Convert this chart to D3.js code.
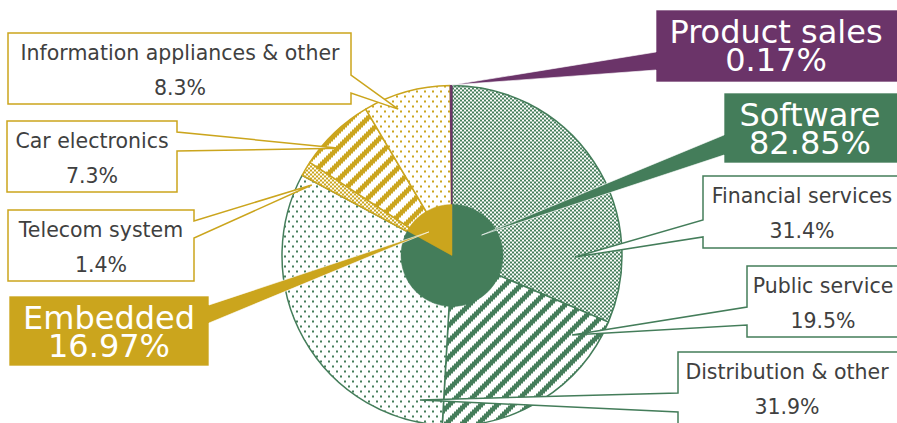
<!DOCTYPE html>
<html><head><meta charset="utf-8">
<script src="https://cdn.jsdelivr.net/npm/d3@7"></script>
<style>html,body{margin:0;padding:0;background:#fff;} svg{display:block;}</style>
</head><body>
<script>
// ---- data ----
const innerCategories = ["Product sales", "Software", "Embedded"];
const innerValues = [0.17, 82.85, 16.97];
const outerCategories = ["Financial services", "Public service", "Distribution & other",
  "Telecom system", "Car electronics", "Information appliances & other", "Product sales"];
const outerValues = [31.4, 19.5, 31.9, 1.4, 7.3, 8.3, 0.17];
const outerParents = ["Software", "Software", "Software", "Embedded", "Embedded", "Embedded", "Product sales"];

// ---- styles ----
const W = 897, H = 423;
const cx = 452, cy = 255.5, R = 170, R0 = 51;
const parentColor = {"Software": "#447D5A", "Embedded": "#CBA51D", "Product sales": "#6B3469"};
const innerColor = {"Software": "#447D5A", "Embedded": "#CBA51D", "Product sales": "#4472C4"};
const outerFills = ["checker", "stripe", "dots", "checker", "stripe", "dots", "solid"];

// callout layout (box rect, pointer base on box side, tip in polar coords around pie centre)
const calloutLayout = [
  {name: "Information appliances & other", ring: "outer", x: 8, y: 33, w: 343, h: 71, side: "right", py: [75, 93], ta: 339.8, tr: 156, tx: 180},
  {name: "Car electronics", ring: "outer", x: 7, y: 121, w: 170, h: 71, side: "right", py: [132, 151], ta: 313.8, tr: 155, tx: 92},
  {name: "Telecom system", ring: "outer", x: 8, y: 210, w: 186, h: 71, side: "right", py: [221, 238], ta: 296.7, tr: 157, tx: 101},
  {name: "Financial services", ring: "outer", x: 703, y: 176, w: 200, h: 72, side: "left", py: [220, 237], ta: 90.7, tr: 123, tx: 802},
  {name: "Public service", ring: "outer", x: 747, y: 266, w: 160, h: 71, side: "left", py: [307, 325], ta: 123.5, tr: 144, tx: 823},
  {name: "Distribution & other", ring: "outer", x: 678, y: 352, w: 230, h: 72, side: "left", py: [393, 412], ta: 192.5, tr: 148, tx: 787},
  {name: "Product sales", ring: "inner", x: 656, y: 10, w: 242, h: 72, side: "left", py: [52, 70], ta: 0, tr: 170.5, tx: 776},
  {name: "Software", ring: "inner", x: 724, y: 93, w: 174, h: 70, side: "left", py: [135, 155], ta: 55.4, tr: 36, tx: 810},
  {name: "Embedded", ring: "inner", x: 9, y: 296, w: 200, h: 70, side: "right", py: [305, 323], ta: 315.6, tr: 33, tx: 109}
];

const svg = d3.select("body").append("svg").attr("width", W).attr("height", H)
  .style("font-family", "'DejaVu Sans', Verdana, sans-serif");
const defs = svg.append("defs");

function makePatterns(key, c) {
  let p = defs.append("pattern").attr("id", "checker-" + key).attr("patternUnits", "userSpaceOnUse")
    .attr("width", 4).attr("height", 4);
  p.append("rect").attr("width", 4).attr("height", 4).attr("fill", "#fff");
  p.append("rect").attr("x", 0).attr("y", 0).attr("width", 2).attr("height", 2).attr("fill", c);
  p.append("rect").attr("x", 2).attr("y", 2).attr("width", 2).attr("height", 2).attr("fill", c);

  p = defs.append("pattern").attr("id", "stripe-" + key).attr("patternUnits", "userSpaceOnUse")
    .attr("width", 16).attr("height", 16);
  p.append("rect").attr("width", 16).attr("height", 16).attr("fill", "#fff");
  for (let j = 0; j < 8; j++) {
    const x = 14 - 2 * j;
    [x - 16, x, x + 16].forEach(xx => {
      p.append("rect").attr("x", xx).attr("y", 2 * j).attr("width", 7).attr("height", 2).attr("fill", c);
    });
  }

  p = defs.append("pattern").attr("id", "dots-" + key).attr("patternUnits", "userSpaceOnUse")
    .attr("width", 8).attr("height", 10);
  p.append("rect").attr("width", 8).attr("height", 10).attr("fill", "#fff");
  p.append("rect").attr("x", 0).attr("y", 0).attr("width", 2).attr("height", 2).attr("fill", c);
  p.append("rect").attr("x", 4).attr("y", 5).attr("width", 2).attr("height", 2).attr("fill", c);
}
Object.entries(parentColor).forEach(([k, c], i) => makePatterns("p" + i, c));
const patternKey = {};
Object.keys(parentColor).forEach((k, i) => patternKey[k] = "p" + i);
defs.selectAll("pattern rect").attr("shape-rendering", "crispEdges");

const g = svg.append("g").attr("transform", `translate(${cx},${cy})`);
const pie = d3.pie().sort(null).value(d => d.v);

// outer pie
const outerData = pie(outerCategories.map((n, i) => ({n, v: outerValues[i], p: outerParents[i], f: outerFills[i]})));
const outerArc = d3.arc().innerRadius(0).outerRadius(R);
g.selectAll("path.outer").data(outerData).join("path").attr("class", "outer")
  .attr("d", outerArc)
  .attr("fill", d => d.data.f === "solid" ? parentColor[d.data.p] : `url(#${d.data.f}-${patternKey[d.data.p]})`)
  .attr("stroke", d => parentColor[d.data.p])
  .attr("stroke-width", d => d.data.f === "solid" ? 1 : 1.5)
  .attr("stroke-linejoin", "round");

// inner pie
const innerData = pie(innerCategories.map((n, i) => ({n, v: innerValues[i]})));
const innerArc = d3.arc().innerRadius(0).outerRadius(R0);
g.selectAll("path.inner").data(innerData).join("path").attr("class", "inner")
  .attr("d", innerArc)
  .attr("fill", d => innerColor[d.data.n])
  .attr("stroke", d => innerColor[d.data.n])
  .attr("stroke-width", 0.5);

// callouts
const valueOf = {};
outerCategories.forEach((n, i) => valueOf["outer|" + n] = outerValues[i]);
innerCategories.forEach((n, i) => valueOf["inner|" + n] = innerValues[i]);
const parentOf = {};
outerCategories.forEach((n, i) => parentOf[n] = outerParents[i]);

function tipXY(b) {
  const a = b.ta * Math.PI / 180;
  return [cx + b.tr * Math.sin(a), cy - b.tr * Math.cos(a)];
}
function calloutPath(b) {
  const [tx, ty] = tipXY(b);
  const x0 = b.x, y0 = b.y, x1 = b.x + b.w, y1 = b.y + b.h;
  if (b.side === "right")
    return `M${x0},${y0}H${x1}V${b.py[0]}L${tx},${ty}L${x1},${b.py[1]}V${y1}H${x0}Z`;
  return `M${x0},${y0}H${x1}V${y1}H${x0}V${b.py[1]}L${tx},${ty}L${x0},${b.py[0]}Z`;
}

const cg = svg.append("g");
calloutLayout.forEach(b => {
  const big = b.ring === "inner";
  const col = big ? parentColor[b.name] : parentColor[parentOf[b.name]];
  const v = valueOf[b.ring + "|" + b.name];
  cg.append("path").attr("d", calloutPath(b))
    .attr("fill", big ? col : "#fff")
    .attr("stroke", big ? "#fff" : col)
    .attr("stroke-opacity", big ? 0.8 : 1)
    .attr("stroke-width", big ? 0.8 : 1.5)
    .attr("stroke-linejoin", "miter");
  const fs = big ? 32 : 20.5;
  const t = cg.append("text").attr("text-anchor", "middle")
    .attr("fill", big ? "#fff" : "#404040").attr("font-size", fs);
  t.append("tspan").attr("x", b.tx).attr("y", b.y + (big ? 33 : 27)).text(b.name);
  t.append("tspan").attr("x", b.tx).attr("y", b.y + (big ? 61 : 62))
    .text(d3.format(big ? ".2f" : ".1f")(v) + "%");
});
</script>
</body></html>
